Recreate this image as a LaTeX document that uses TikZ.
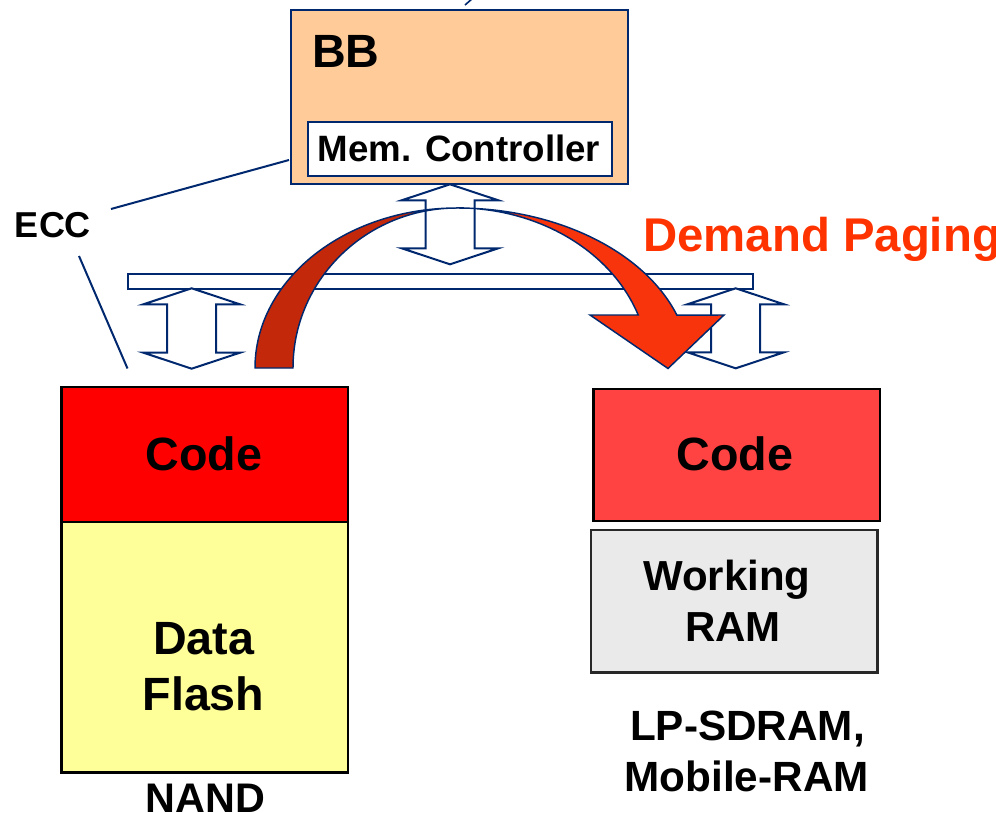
\documentclass[tikz,border=0pt]{standalone}
\usepackage{fontspec}
\setmainfont{Liberation Sans}
\definecolor{navy}{RGB}{0,40,110}
\definecolor{peach}{RGB}{255,204,153}
\definecolor{flashy}{RGB}{255,255,153}
\definecolor{rcodered}{RGB}{255,66,66}
\definecolor{wramgray}{RGB}{234,234,234}
\definecolor{darkarc}{RGB}{196,40,10}
\definecolor{brightarc}{RGB}{248,52,12}
\definecolor{demand}{RGB}{255,51,0}
\newcommand\mydblarrow[3]{%
  \draw[dblarr] (#1,#2) -- ({#1+48.3},{#2+16}) -- ({#1+24.5},{#2+16}) -- ({#1+24.5},{#3-16}) -- ({#1+48.3},{#3-16}) -- (#1,#3) -- ({#1-48.3},{#3-16}) -- ({#1-24.5},{#3-16}) -- ({#1-24.5},{#2+16}) -- ({#1-48.3},{#2+16}) -- cycle;}
\begin{document}
\begin{tikzpicture}[x=0.75pt,y=-0.75pt,
  navyline/.style={draw=navy,line width=1.5pt},
  dblarr/.style={draw=navy,line width=1.5pt,fill=white,line join=miter},
  boxbase/.style={rectangle,inner sep=0pt,anchor=north west},
  membox/.style={boxbase,draw=black,line width=2.2pt},
  txt/.style={inner sep=0pt,anchor=base,font=\bfseries},
  arcband/.style={draw=navy,line width=1.1pt,line join=miter}]
\useasboundingbox (0,0) rectangle (996,813);
\clip (0,0) rectangle (996,813);

% BB box with memory controller
\node[boxbase,navyline,fill=peach,minimum width=337*0.75pt,minimum height=174.5*0.75pt] (bb) at (290,9) {};
\node[boxbase,navyline,fill=white,minimum width=304*0.75pt,minimum height=54*0.75pt] (mem) at (306.5,121.5) {};
\node[txt,anchor=base west,font=\bfseries\fontsize{35}{42}\selectfont] (bbtxt) at (312,68) {BB};
\node[txt,font=\bfseries\fontsize{27.5}{33}\selectfont] (memtxt) at (459,162) {Mem. Controller};

% short line leaving the top of BB
\coordinate (topA) at (465,5);
\coordinate (topB) at (473,-2);
\draw[navy,line width=1.2pt] (topA) -- (topB);

% ECC
\node[txt,font=\bfseries\fontsize{27}{32}\selectfont] (ecc) at (53,238) {ECC};
\coordinate (eccA) at (111,209);
\coordinate (bbhit) at (289,160);
\coordinate (eccB) at (79,256);
\coordinate (nandhit) at (127.5,368.5);
\draw[navy,line width=1.5pt] (eccA) -- (bbhit);
\draw[navy,line width=1.5pt] (eccB) -- (nandhit);

% bus
\node[boxbase,navyline,fill=white,minimum width=625*0.75pt,minimum height=15.5*0.75pt] (bus) at (127,272.5) {};

% double arrows
\mydblarrow{450}{184.3}{264.3}
\mydblarrow{191.7}{288.3}{368.7}
\mydblarrow{735.7}{288.3}{368.3}

% curved demand-paging arrow
\draw[arcband,fill=darkarc] (255,368)
  arc[start angle=180,end angle=270,x radius=202,y radius=160]
  arc[start angle=270,end angle=180,x radius=164,y radius=160] -- cycle;
\draw[arcband,fill=brightarc] (457,208)
  arc[start angle=270,end angle=340.7,x radius=233,y radius=160]
  -- (724,315) -- (668,368.5) -- (590,315) -- (638.2,315)
  arc[start angle=340.7,end angle=270,x radius=192,y radius=160] -- cycle;
\node[txt,anchor=base west,text=demand,font=\bfseries\fontsize{35.5}{42}\selectfont] (dp) at (643,251.7) {Demand Paging};

% NAND side
\node[membox,fill=red,minimum width=286.5*0.75pt,minimum height=135*0.75pt] (lcode) at (60,385.5) {};
\node[membox,fill=flashy,minimum width=286.5*0.75pt,minimum height=250.5*0.75pt] (flash) at (60,520.5) {};
\node[txt,font=\bfseries\fontsize{35}{42}\selectfont] (lcodetxt) at (203.8,470) {Code};
\node[txt,font=\bfseries\fontsize{35}{42}\selectfont] (datatxt) at (203.7,654) {Data};
\node[txt,font=\bfseries\fontsize{35}{42}\selectfont] (flashtxt) at (203.5,710.7) {Flash};
\node[txt,font=\bfseries\fontsize{31}{37}\selectfont] (nand) at (205.5,812) {NAND};

% RAM side
\node[membox,fill=rcodered,minimum width=286.5*0.75pt,minimum height=132*0.75pt] (rcode) at (592,387.5) {};
\node[membox,draw={rgb,255:red,40;green,40;blue,40},fill=wramgray,minimum width=286.5*0.75pt,minimum height=142.5*0.75pt] (wram) at (589.5,528.5) {};
\node[txt,font=\bfseries\fontsize{35}{42}\selectfont] (rcodetxt) at (735,470) {Code};
\node[txt,font=\bfseries\fontsize{31.5}{38}\selectfont] (worktxt) at (727,590) {Working};
\node[txt,font=\bfseries\fontsize{31.5}{38}\selectfont] (ramtxt) at (733,641.7) {RAM};
\node[txt,font=\bfseries\fontsize{31.7}{38}\selectfont] (lpsd) at (747.5,740) {LP-SDRAM,};
\node[txt,font=\bfseries\fontsize{31.7}{38}\selectfont] (mobram) at (746.7,791.7) {Mobile-RAM};
\end{tikzpicture}
\end{document}
